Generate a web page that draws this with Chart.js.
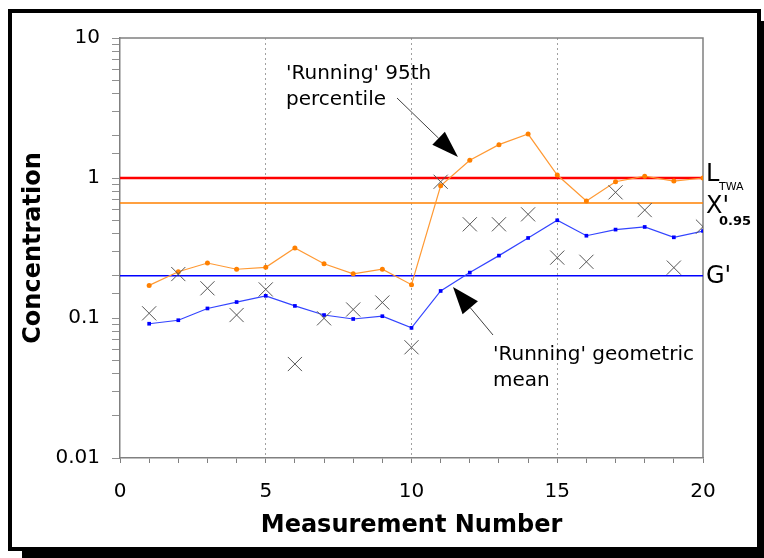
<!DOCTYPE html>
<html>
<head>
<meta charset="utf-8">
<script src="https://cdn.jsdelivr.net/npm/chart.js@4/dist/chart.umd.min.js"></script>
<style>
  html, body { margin: 0; padding: 0; background: #fff; }
  body { width: 764px; height: 558px; position: relative; overflow: hidden; }
  #frame { position: absolute; left: 8px; top: 9px; width: 753px; height: 542px;
           box-sizing: border-box; border: 4px solid #000; background: #fff;
           box-shadow: 14px 12px 0 0 #000; z-index: 0; }
  #wrap { position: absolute; left: 0; top: 0; width: 764px; height: 558px; z-index: 1; }
</style>
</head>
<body>
<div id="frame"></div>
<div id="wrap"><canvas id="c" width="764" height="558"></canvas></div>
<script>
// ---- data ----
const measurementNumber = [1,2,3,4,5,6,7,8,9,10,11,12,13,14,15,16,17,18,19,20];
const running95th = [0.171,0.214,0.247,0.223,0.230,0.316,0.244,0.207,0.223,0.173,0.88,1.34,1.73,2.06,1.05,0.685,0.94,1.03,0.95,1.00];
const runningGeoMean = [0.091,0.0964,0.117,0.130,0.144,0.122,0.105,0.0984,0.103,0.085,0.156,0.211,0.279,0.373,0.499,0.387,0.428,0.447,0.377,0.418];
const measurements = [0.108,0.206,0.163,0.105,0.160,0.0469,0.0995,0.115,0.129,0.0618,0.94,0.467,0.467,0.55,0.27,0.252,0.79,0.59,0.229,0.449];
const limitLTWA = 1;
const limitX095 = 0.663;
const limitG = 0.2;
const xRange = [0, 20];
const yRange = [0.01, 10];
const yTickLabels = ['0.01', '0.1', '1', '10'];
const xTickLabels = ['0', '5', '10', '15', '20'];

const pts = (ys) => measurementNumber.map((x, i) => ({x, y: ys[i]}));
const hline = (v) => [{x: xRange[0], y: v}, {x: xRange[1], y: v}];

Chart.defaults.font.family = "'DejaVu Sans', sans-serif";
Chart.defaults.color = '#000';

const decorPlugin = {
  id: 'decor',
  beforeDatasetsDraw(chart) {
    const {ctx, chartArea: a} = chart;
    ctx.save();
    ctx.strokeStyle = '#808080';
    ctx.lineWidth = 1.5;
    ctx.beginPath();
    ctx.moveTo(a.left, a.top);
    ctx.lineTo(a.right, a.top);
    ctx.lineTo(a.right, a.bottom);
    ctx.stroke();
    ctx.restore();
  },
  afterDatasetsDraw(chart) {
    const {ctx} = chart;
    ctx.save();
    // annotation texts
    ctx.fillStyle = '#000';
    ctx.textBaseline = 'alphabetic';
    ctx.textAlign = 'left';
    ctx.font = "20px 'DejaVu Sans'";
    ctx.fillText("'Running' 95th", 286, 79);
    ctx.fillText("percentile", 286, 105);
    ctx.fillText("'Running' geometric", 493, 360);
    ctx.fillText("mean", 493, 386);

    function arrow(x0, y0, x1, y1, len, wid) {
      const dx = x1 - x0, dy = y1 - y0, d = Math.hypot(dx, dy);
      const ux = dx / d, uy = dy / d;
      const bx = x1 - ux * len, by = y1 - uy * len;
      ctx.strokeStyle = '#404040';
      ctx.lineWidth = 1;
      ctx.beginPath();
      ctx.moveTo(x0, y0);
      ctx.lineTo(bx, by);
      ctx.stroke();
      ctx.fillStyle = '#000';
      ctx.beginPath();
      ctx.moveTo(x1, y1);
      ctx.lineTo(bx - uy * wid / 2, by + ux * wid / 2);
      ctx.lineTo(bx + uy * wid / 2, by - ux * wid / 2);
      ctx.closePath();
      ctx.fill();
    }
    arrow(397, 98, 458, 157, 27, 18);
    arrow(493, 335, 453, 287, 27, 20);

    // right-hand labels
    ctx.fillStyle = '#000';
    ctx.font = "24px 'DejaVu Sans'";
    ctx.fillText('L', 706, 181);
    ctx.fillText("X'", 706, 213);
    ctx.fillText("G'", 706, 283);
    ctx.font = "11px 'DejaVu Sans'";
    ctx.fillText('TWA', 719, 190);
    ctx.font = "bold 13px 'DejaVu Sans'";
    ctx.fillText('0.95', 719, 225);
    ctx.restore();
  }
};

new Chart(document.getElementById('c'), {
  type: 'line',
  data: {
    datasets: [
      { label: 'LTWA', data: hline(limitLTWA), borderColor: '#ff0000', borderWidth: 2.5, pointRadius: 0, order: 5 },
      { label: "X'0.95", data: hline(limitX095), borderColor: '#ff8000', borderWidth: 1.5, pointRadius: 0, order: 5 },
      { label: "G'", data: hline(limitG), borderColor: '#0000ff', borderWidth: 1.5, pointRadius: 0, order: 5 },
      { label: 'Running 95th percentile', data: pts(running95th), borderColor: '#ff9933', borderWidth: 1.2,
        pointStyle: 'circle', pointRadius: 2.5, pointBackgroundColor: '#ff8000', pointBorderColor: '#ff8000', pointBorderWidth: 0, order: 2 },
      { label: 'Running geometric mean', data: pts(runningGeoMean), borderColor: '#3344ff', borderWidth: 1.2,
        pointStyle: 'rect', pointRadius: 2.6, pointBackgroundColor: '#0000ff', pointBorderColor: '#0000ff', pointBorderWidth: 0, order: 2 },
      { label: 'Measurements', data: pts(measurements), showLine: false, pointStyle: 'crossRot', pointRadius: 10,
        pointBorderColor: '#555555', pointBorderWidth: 1, pointBackgroundColor: 'rgba(0,0,0,0)', order: 1 }
    ]
  },
  options: {
    responsive: false,
    animation: false,
    events: [],
    layout: { padding: { top: 38, right: 61, left: 0, bottom: 0 } },
    plugins: { legend: { display: false }, tooltip: { enabled: false } },
    scales: {
      x: {
        type: 'linear', min: xRange[0], max: xRange[1],
        afterFit: (s) => { s.height = 100; },
        ticks: {
          stepSize: 1, autoSkip: false, maxRotation: 0, padding: 17,
          font: { size: 20 }, color: '#000',
          callback: (v) => { const i = xTickLabels.indexOf(String(v)); return i >= 0 ? xTickLabels[i] : ''; }
        },
        grid: {
          drawOnChartArea: true, drawTicks: true, tickLength: 5, tickColor: '#808080', lineWidth: 1,
          color: (c) => { const v = c.tick && c.tick.value; return (v % 5 === 0 && v !== xRange[0] && v !== xRange[1]) ? '#a0a0a0' : 'rgba(0,0,0,0)'; }
        },
        border: { display: true, color: '#808080', width: 1.5, dash: [2, 3] },
        title: { display: true, text: 'Measurement Number', font: { size: 24, weight: 'bold' }, color: '#000', padding: { top: 0, bottom: 17.6 } }
      },
      y: {
        type: 'logarithmic', min: yRange[0], max: yRange[1],
        afterFit: (s) => { s.width = 120; },
        ticks: {
          autoSkip: false, padding: 12, font: { size: 20 }, color: '#000',
          callback: (v) => {
            const l = Math.log10(v);
            if (Math.abs(l - Math.round(l)) < 1e-6) { const i = Math.round(l) + 2; return yTickLabels[i] ?? ''; }
            return '';
          }
        },
        grid: { drawOnChartArea: false, drawTicks: true, tickLength: 8, tickColor: '#909090' },
        border: { display: true, color: '#808080', width: 1.5 },
        title: { display: true, text: 'Concentration', font: { size: 24, weight: 'bold' }, color: '#000', padding: { top: 19.6, bottom: 0 } }
      }
    }
  },
  plugins: [decorPlugin]
});
</script>
</body>
</html>
